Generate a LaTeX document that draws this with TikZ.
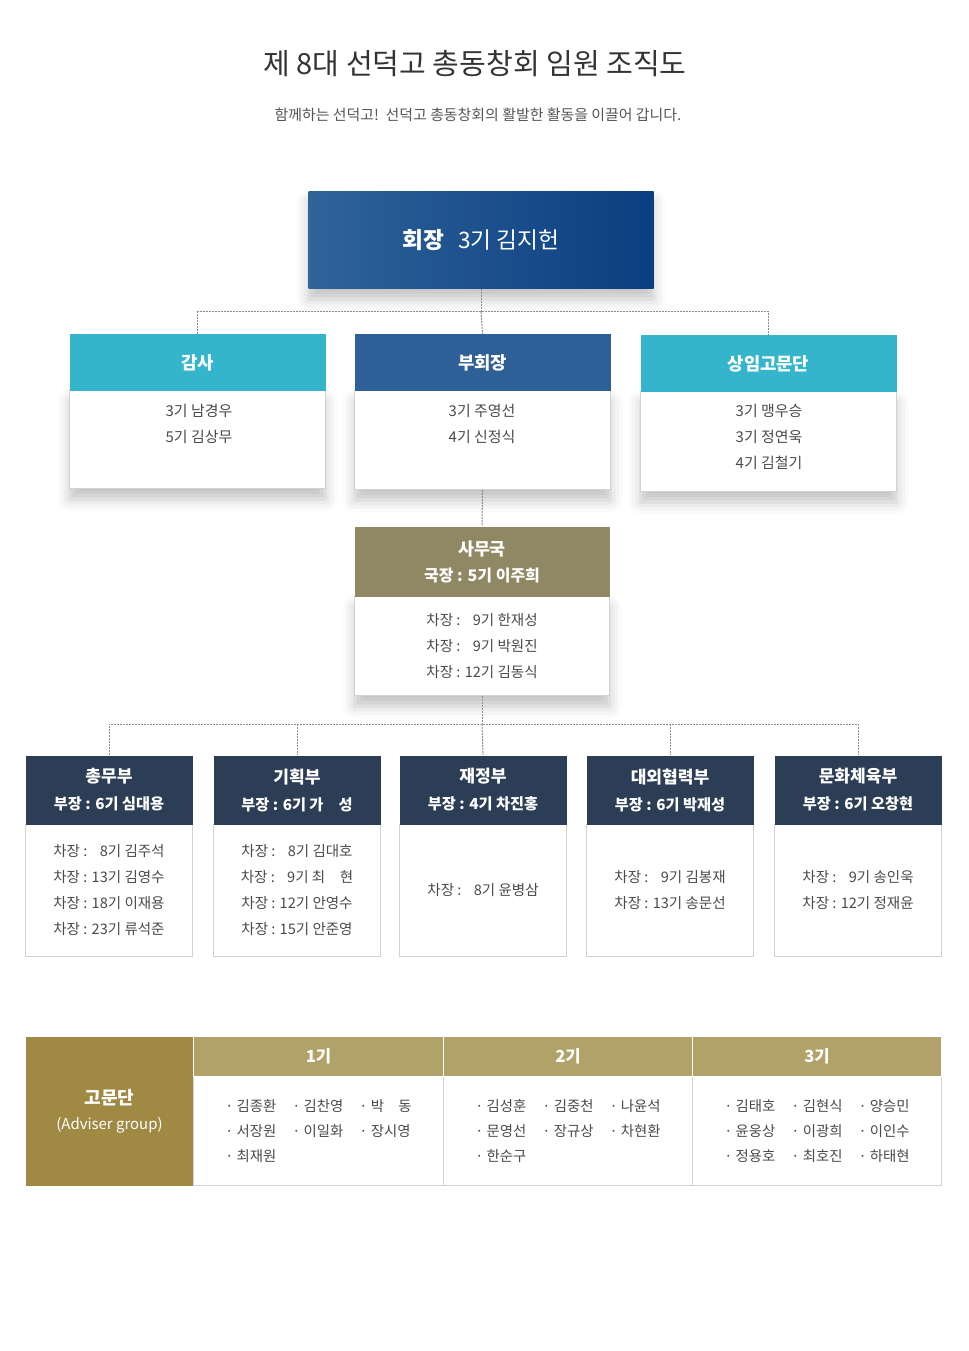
\documentclass[tikz,border=0pt]{standalone}
\usepackage{fontspec}
\setmainfont{Noto Sans CJK KR}
\usetikzlibrary{shadows.blur}

\definecolor{titletxt}{HTML}{333333}
\definecolor{subtxt}{HTML}{555555}
\definecolor{bodytxt}{HTML}{4A4A4A}
\definecolor{cyanhd}{HTML}{35B5CC}
\definecolor{bluehd}{HTML}{2E5F96}
\definecolor{olivehd}{HTML}{8F8863}
\definecolor{navyhd}{HTML}{2C3E55}
\definecolor{goldcell}{HTML}{A08943}
\definecolor{khakicell}{HTML}{B0A268}
\definecolor{boxline}{HTML}{D2D2D2}
\definecolor{linkline}{HTML}{8C8C8C}
\definecolor{presL}{HTML}{2F6399}
\definecolor{presM}{HTML}{1B58A3}
\definecolor{presR}{HTML}{0B3E80}

\begin{document}
\begin{tikzpicture}[x=0.75pt,y=-0.75pt,line width=0.75pt]
        \tikzstyle{hd} = [rectangle, inner sep=0pt, anchor=north west, text=white, align=center, font=\bfseries\fontsize{13.3}{15}\selectfont]
        \tikzstyle{bd} = [rectangle, draw=boxline, fill=white, inner sep=0pt, anchor=north west, text=bodytxt, align=center, font=\fontsize{10.9}{19.5}\selectfont]
        \tikzstyle{dhd} = [hd, fill=navyhd, minimum width=125.25pt, minimum height=51.75pt, font=\bfseries\fontsize{11.4}{20.25}\selectfont]
        \tikzstyle{dbd} = [bd, minimum width=125.25pt, minimum height=99pt]
        \tikzstyle{soft} = [blur shadow={shadow xshift=0pt, shadow yshift=-8pt, shadow blur radius=9pt, shadow opacity=24}]
        \tikzstyle{link} = [draw=linkline, line width=0.75pt, dash pattern=on 1.5pt off 0.75pt]
        \tikzstyle{lst} = [text=bodytxt, align=center, font=\fontsize{11.2}{19.5}\selectfont]
        \tikzstyle{gcell} = [rectangle, inner sep=0pt, anchor=north west]

        \useasboundingbox (0,0) rectangle (969,1351);

        % 제목
        \node[text=titletxt, font=\fontsize{21.8}{26}\selectfont] (title) at (475,64) {제 8대 선덕고 총동창회 임원 조직도};
        \node[text=subtxt, font=\fontsize{11.2}{13}\selectfont] (sub) at (478,115) {함께하는 선덕고!\ \ 선덕고 총동창회의 활발한 활동을 이끌어 갑니다.};

        % 회장
        \node[soft, rectangle, inner sep=0pt, anchor=north west, minimum width=258.75pt, minimum height=72.75pt,
              left color=presL, middle color=presM, right color=presR, text=white, font=\fontsize{17}{20}\selectfont]
              (pres) at (308,191) {\textbf{회장}\hspace{0.6em}3기 김지헌};

        % 감사 / 부회장 / 상임고문단
        \node[bd, soft, minimum width=192pt, minimum height=73.5pt] (gam-b) at (69,390) {};
        \node[hd, fill=cyanhd, minimum width=192pt, minimum height=42pt] (gam-h) at (69,334) {감사};
        \node[lst] (gam-t) at (199,424) {3기 남경우\\5기 김상무};

        \node[bd, soft, minimum width=192pt, minimum height=74.25pt] (bu-b) at (354,390) {};
        \node[hd, fill=bluehd, minimum width=192pt, minimum height=42pt] (bu-h) at (354,334) {부회장};
        \node[lst] (bu-t) at (482,424) {3기 주영선\\4기 신정식};

        \node[bd, soft, minimum width=192pt, minimum height=75pt] (sang-b) at (640,391) {};
        \node[hd, fill=cyanhd, minimum width=192pt, minimum height=42pt] (sang-h) at (640,335) {상임고문단};
        \node[lst] (sang-t) at (769,437) {3기 맹우승\\3기 정연욱\\4기 김철기};

        % 사무국
        \node[bd, soft, minimum width=191.25pt, minimum height=74.25pt] (sa-b) at (354,596)
              {차장 : \phantom{1}9기 한재성\\차장 : \phantom{1}9기 박원진\\차장 : 12기 김동식};
        \node[hd, fill=olivehd, minimum width=191.25pt, minimum height=52.5pt, font=\bfseries\fontsize{12}{19.5}\selectfont]
              (sa-h) at (354,526) {{\fontsize{13}{15}\selectfont 사무국}\\국장 : 5기 이주희};

        % 부서
        \node[dbd] (cm-b) at (25,824) {차장 : \phantom{1}8기 김주석\\차장 : 13기 김영수\\차장 : 18기 이재용\\차장 : 23기 류석준};
        \node[dhd] (cm-h) at (25,755) {{\fontsize{12.8}{15}\selectfont 총무부}\\부장 : 6기 심대용};

        \node[dbd] (gh-b) at (213,824) {차장 : \phantom{1}8기 김대호\\차장 : \phantom{1}9기 최　현\\차장 : 12기 안영수\\차장 : 15기 안준영};
        \node[dhd] (gh-h) at (213,755) {{\fontsize{12.8}{15}\selectfont 기획부}\\부장 : 6기 가　성};

        \node[dbd] (jj-b) at (399,824) {차장 : \phantom{1}8기 윤병삼};
        \node[dhd] (jj-h) at (399,755) {{\fontsize{12.8}{15}\selectfont 재정부}\\부장 : 4기 차진홍};

        \node[dbd] (dw-b) at (586,824) {차장 : \phantom{1}9기 김봉재\\차장 : 13기 송문선};
        \node[dhd] (dw-h) at (586,755) {{\fontsize{12.8}{15}\selectfont 대외협력부}\\부장 : 6기 박재성};

        \node[dbd] (mh-b) at (774,824) {차장 : \phantom{1}9기 송인욱\\차장 : 12기 정재윤};
        \node[dhd] (mh-h) at (774,755) {{\fontsize{12.8}{15}\selectfont 문화체육부}\\부장 : 6기 오창현};

        % 연결선
        \draw[link] (pres.south) -- ++(0,23) coordinate (j1);
        \draw[link] (gam-h.north) |- (j1) -| (sang-h.north);
        \draw[link] (j1) -- (bu-h.north);
        \draw[link] (bu-b.south) -- (sa-h.north);
        \draw[link] (sa-b.south) -- ++(0,28) coordinate (j2);
        \draw[link] (cm-h.north) |- (j2) -| (mh-h.north);
        \draw[link] (gh-h.north |- j2) -- (gh-h.north);
        \draw[link] (j2) -- (jj-h.north);
        \draw[link] (dw-h.north |- j2) -- (dw-h.north);

        % 고문단
        \node[gcell, fill=goldcell, minimum width=126pt, minimum height=111.75pt, text=white, align=center,
              font=\fontsize{11.2}{18.75}\selectfont] (adv) at (25,1036)
              {{\bfseries\fontsize{13.5}{15}\selectfont 고문단}\\(Adviser group)};

        \node[gcell, draw=boxline, fill=white, minimum width=187.5pt, minimum height=81.75pt, text=bodytxt,
              font=\fontsize{10.8}{18.75}\selectfont] (g1-b) at (193,1076)
              {\begin{tabular}{@{}l@{\hspace{12pt}}l@{\hspace{12pt}}l@{}}· 김종환 & · 김찬영 & · 박　동\\· 서장원 & · 이일화 & · 장시영\\· 최재원 & & \end{tabular}};
        \node[gcell, draw=boxline, fill=white, minimum width=186.75pt, minimum height=81.75pt, text=bodytxt,
              font=\fontsize{10.8}{18.75}\selectfont] (g2-b) at (443,1076)
              {\begin{tabular}{@{}l@{\hspace{12pt}}l@{\hspace{12pt}}l@{}}· 김성훈 & · 김중천 & · 나윤석\\· 문영선 & · 장규상 & · 차현환\\· 한순구 & & \end{tabular}};
        \node[gcell, draw=boxline, fill=white, minimum width=186.75pt, minimum height=81.75pt, text=bodytxt,
              font=\fontsize{10.8}{18.75}\selectfont] (g3-b) at (692,1076)
              {\begin{tabular}{@{}l@{\hspace{12pt}}l@{\hspace{12pt}}l@{}}· 김태호 & · 김현식 & · 양승민\\· 윤웅상 & · 이광희 & · 이인수\\· 정용호 & · 최호진 & · 하태현\end{tabular}};

        \node[gcell, fill=khakicell, draw=white, minimum width=187.5pt, minimum height=30pt, text=white,
              font=\bfseries\fontsize{12.5}{15}\selectfont] (g1-h) at (193,1036) {1기};
        \node[gcell, fill=khakicell, draw=white, minimum width=186.75pt, minimum height=30pt, text=white,
              font=\bfseries\fontsize{12.5}{15}\selectfont] (g2-h) at (443,1036) {2기};
        \node[gcell, fill=khakicell, draw=white, minimum width=186.75pt, minimum height=30pt, text=white,
              font=\bfseries\fontsize{12.5}{15}\selectfont] (g3-h) at (692,1036) {3기};
\end{tikzpicture}
\end{document}
